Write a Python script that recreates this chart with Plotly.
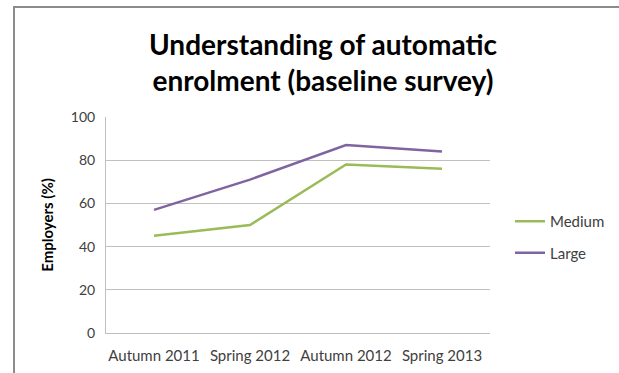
import plotly.graph_objects as go

categories = ["Autumn 2011", "Spring 2012", "Autumn 2012", "Spring 2013"]
medium = [45, 50, 78, 76]
large = [57, 71, 87, 84]
y_ticks = [0, 20, 40, 60, 80, 100]

FONT = "Lato, Carlito, Calibri, sans-serif"

W, H = 619, 373
L, R, T, B = 106, 490, 117, 333  # plot area pixel box

def px(x):
    return (x - L) / (R - L)

def py(y):
    return (B - y) / (B - T)

fig = go.Figure()
fig.add_trace(go.Scatter(x=categories, y=medium, name="Medium", mode="lines",
                         line=dict(color="#9BBB59", width=2.5), legendgroup="m"))
fig.add_trace(go.Scatter(x=categories, y=large, name="Large", mode="lines",
                         line=dict(color="#8064A2", width=2.5), legendgroup="l"))

fig.update_layout(
    width=W, height=H,
    margin=dict(l=L, r=W - R, t=T, b=H - B, pad=0, autoexpand=False),
    paper_bgcolor="white", plot_bgcolor="white",
    font=dict(family=FONT, color="#404040", size=14),
    title=dict(text="<b>Understanding of automatic<br>enrolment (baseline survey)</b>",
               x=323 / W, xanchor="center", y=1 - 55 / H, yanchor="middle",
               font=dict(family=FONT, size=28, color="black")),
    xaxis=dict(showgrid=False, showline=True, linecolor="#bfbfbf", linewidth=1,
               ticks="", ticklabelstandoff=9, automargin=False,
               tickfont=dict(size=15, color="#404040"), range=[-0.5, 3.5]),
    yaxis=dict(range=[0, 100], tickvals=y_ticks, showgrid=True, gridcolor="#c0c0c0",
               gridwidth=1, showline=True, linecolor="#bfbfbf", linewidth=1,
               zeroline=False, ticks="", ticklabelstandoff=7, automargin=False,
               tickfont=dict(size=14, color="#404040"),
               title=dict(text="<b>Employers (%)</b>", standoff=13,
                          font=dict(size=15, color="black"))),
    legend=dict(x=px(510), y=py(205), xanchor="left", yanchor="top",
                font=dict(size=15, color="#404040"), tracegroupgap=9,
                traceorder="grouped", bgcolor="rgba(0,0,0,0)"),
    showlegend=True,
    shapes=[dict(type="path", xref="paper", yref="paper",
                 path=f"M {px(14)} {py(380)} L {px(14)} {py(7)} L {px(630)} {py(7)}",
                 line=dict(color="#8c8c8c", width=2))],
)

fig.write_html("out.html")
